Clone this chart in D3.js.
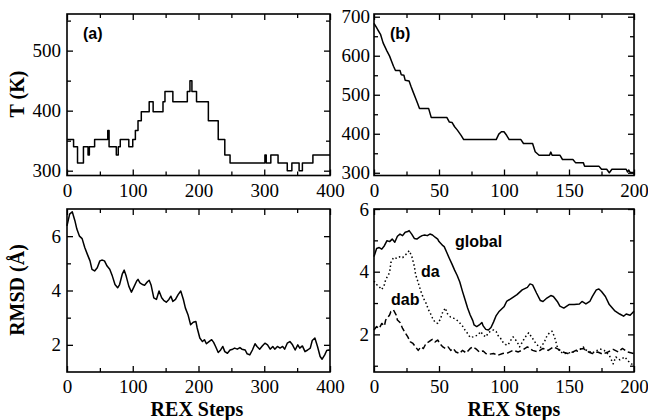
<!DOCTYPE html>
<html>
<head>
<meta charset="utf-8">
<script src="https://cdn.jsdelivr.net/npm/d3@7"></script>
<style>
body { margin: 0; background: #fff; }
</style>
</head>
<body>
<script>
var width = 648;
var height = 420;

// (a) temperature ladder, value holds from this step until the next one
var tempStepsA = [0, 10, 16, 25, 32, 34, 42, 62, 64, 75, 78, 81, 94, 100, 104, 108, 113, 125, 131, 146,
    149, 161, 183, 187, 190, 197, 215, 230, 240, 248, 301, 303, 310, 321, 335, 342, 353, 358, 374, 400];
var tempA = [352, 340, 313, 340, 326, 340, 352, 367, 340, 326, 340, 352, 340, 352, 367, 383, 398, 415, 398, 415,
    432, 415, 432, 450, 432, 415, 383, 352, 326, 313, 326, 313, 326, 313, 300, 313, 300, 313, 326, 326];

// (b) temperature
var tempStepsB = [0, 2, 3, 5, 7, 10, 12, 13.5, 15, 16.5, 20, 21, 23, 24, 27, 28.5, 30, 32, 33.5, 35,
    42, 44, 56, 58, 60, 62, 64, 67, 69, 94, 96, 98, 100, 102, 104, 113, 115, 122, 124, 127,
    135, 136, 137, 143, 145, 153, 155, 161, 162, 173, 175, 179, 181, 183, 194, 195, 196, 197, 200];
var tempB = [683, 672, 666, 655, 633, 612, 599, 586, 573, 562, 562, 551, 550, 537, 535, 521, 508, 491, 478, 465,
    465, 442, 442, 430, 429, 418, 410, 396, 385, 385, 399, 405, 405, 396, 385, 385, 375, 375, 354, 345,
    345, 353, 345, 345, 334, 334, 326, 326, 317, 317, 309, 309, 300, 309, 309, 302, 307, 301, 301];

// (a) RMSD
var rmsdStepsA = [0, 4, 8, 12, 15, 19, 23, 27, 31, 35,
    38, 42, 46, 50, 53, 57, 61, 65, 69, 73,
    77, 80, 84, 87, 90, 94, 98, 102, 106, 108,
    111, 115, 118, 122, 125, 128, 132, 136, 140, 144,
    147, 151, 155, 158, 161, 165, 169, 173, 177, 180,
    184, 188, 192, 196, 198, 202, 206, 209, 212, 216,
    220, 223, 226, 230, 233, 237, 240, 244, 248, 252,
    255, 259, 263, 266, 271, 274, 278, 282, 286, 289,
    293, 297, 301, 305, 309, 313, 316, 320, 324, 328,
    331, 335, 339, 343, 347, 351, 354, 358, 362, 366,
    370, 373, 377, 381, 385, 388, 392, 395, 398, 400];
var rmsdA = [6.38, 6.81, 6.9, 6.57, 6.26, 6.0, 5.91, 5.58, 5.33, 5.09,
    4.78, 4.72, 4.84, 5.09, 5.12, 5.09, 4.9, 4.78, 4.53, 4.22,
    4.1, 4.22, 4.6, 4.75, 4.53, 4.16, 3.94, 4.14, 4.35, 4.41,
    4.28, 4.22, 4.19, 4.31, 4.38, 4.19, 3.73, 3.67, 3.98, 3.73,
    3.64, 3.57, 3.67, 3.79, 3.6, 3.67, 3.85, 3.98, 3.67, 3.36,
    3.11, 2.74, 2.83, 2.86, 2.62, 2.25, 2.12, 2.19, 2.04, 2.12,
    2.19, 2.09, 1.94, 1.72, 1.79, 1.94, 1.75, 1.69, 1.81, 1.84,
    1.88, 1.84, 1.9, 1.84, 1.81, 1.67, 1.63, 1.81, 2.04, 1.94,
    1.84, 1.96, 2.06, 2.0, 1.84, 1.94, 1.84, 1.94, 1.88, 1.94,
    1.84, 2.06, 2.12, 2.0, 1.81, 2.0, 1.88, 1.96, 1.75, 1.81,
    1.88, 2.16, 2.25, 1.94, 1.57, 1.47, 1.63, 1.79, 1.81, 1.8];

// (b) RMSD, three series
var globalSteps = [0, 2, 4, 6, 8, 10, 12, 14, 16, 18, 20, 22, 24, 26, 27, 29, 31, 33, 35, 37,
    39, 41, 43, 45, 47, 49, 50, 53, 54, 56, 58, 60, 62, 64, 66, 68, 70, 72, 74, 76,
    77, 79, 81, 83, 84, 86, 88, 90, 92, 94, 96, 98, 100, 102, 106, 110, 114, 118, 120, 122,
    125, 128, 130, 133, 136, 138, 141, 143, 146, 150, 154, 158, 160, 163, 166, 168, 171, 173, 175, 178,
    181, 185, 189, 192, 194, 197, 200];
var globalRmsd = [4.48, 4.74, 4.77, 4.72, 4.83, 4.99, 4.96, 5.04, 4.94, 5.13, 5.2, 5.15, 5.26, 5.28, 5.31, 5.2, 5.06, 5.04, 5.1, 5.15,
    5.17, 5.15, 5.2, 5.17, 5.1, 5.04, 4.96, 4.83, 4.8, 4.61, 4.42, 4.24, 4.05, 3.88, 3.67, 3.38, 3.11, 2.84, 2.62, 2.44,
    2.3, 2.25, 2.3, 2.38, 2.27, 2.16, 2.14, 2.22, 2.4, 2.6, 2.72, 2.8, 2.88, 3.05, 3.16, 3.27, 3.42, 3.5, 3.61, 3.58,
    3.32, 3.08, 3.05, 3.16, 3.24, 3.21, 3.05, 2.9, 2.84, 2.95, 2.95, 2.97, 3.05, 2.97, 3.05, 3.21, 3.42, 3.45, 3.37, 3.21,
    2.95, 2.76, 2.65, 2.58, 2.65, 2.61, 2.74];

var daSteps = [0, 2, 4, 6, 8, 9, 12, 13, 15, 18, 20, 22, 24, 26, 27, 29, 31, 32, 34, 36,
    38, 40, 42, 44, 45, 47, 49, 51, 53, 55, 56, 59, 61, 63, 65, 68, 70, 72, 74, 76,
    78, 80, 82, 84, 86, 88, 90, 92, 94, 95, 97, 99, 101, 103, 105, 107, 109, 111, 112, 115,
    117, 119, 122, 125, 128, 131, 133, 135, 137, 139, 141, 143, 146, 150, 154, 157, 161, 163, 166, 168,
    171, 174, 177, 181, 184, 186, 189, 193, 195, 198, 200];
var daRmsd = [3.7, 3.59, 3.52, 3.43, 3.59, 3.75, 3.97, 4.29, 4.45, 4.42, 4.48, 4.45, 4.53, 4.61, 4.67, 4.5, 4.18, 3.91, 3.65, 3.38,
    3.16, 3.0, 2.78, 2.62, 2.52, 2.38, 2.35, 2.48, 2.73, 2.84, 2.68, 2.55, 2.52, 2.48, 2.41, 2.27, 2.14, 2.03, 1.9, 1.92,
    1.95, 1.98, 2.09, 1.98, 1.92, 2.05, 2.11, 2.14, 2.09, 1.98, 1.9, 1.76, 1.68, 1.66, 1.8, 1.92, 1.82, 1.69, 1.6, 1.82,
    1.95, 2.05, 1.87, 1.68, 1.58, 1.75, 1.95, 2.05, 2.1, 1.9, 1.6, 1.45, 1.39, 1.41, 1.45, 1.47, 1.6, 1.5, 1.45, 1.41,
    1.48, 1.53, 1.49, 1.33, 1.06, 1.28, 1.19, 1.28, 1.17, 1.06, 1.02];

var dabSteps = [0, 2, 4, 6, 8, 9, 12, 13, 15, 17, 18, 20, 22, 24, 26, 28, 30, 32, 34, 36,
    38, 40, 42, 44, 45, 47, 49, 51, 53, 55, 57, 59, 61, 63, 66, 68, 71, 74, 76, 79,
    81, 84, 86, 89, 92, 95, 99, 103, 107, 111, 115, 118, 122, 126, 130, 134, 138, 142, 145, 149,
    153, 157, 161, 165, 168, 172, 176, 180, 184, 188, 191, 195, 200];
var dabRmsd = [2.14, 2.25, 2.19, 2.35, 2.27, 2.46, 2.62, 2.73, 2.78, 2.62, 2.46, 2.38, 2.19, 2.05, 1.92, 1.76, 1.71, 1.6, 1.49, 1.6,
    1.55, 1.71, 1.76, 1.82, 1.84, 1.76, 1.82, 1.69, 1.6, 1.55, 1.6, 1.49, 1.55, 1.44, 1.39, 1.49, 1.41, 1.55, 1.6, 1.52,
    1.44, 1.47, 1.39, 1.37, 1.39, 1.33, 1.39, 1.41, 1.49, 1.44, 1.52, 1.6, 1.49, 1.44, 1.55, 1.49, 1.6, 1.52, 1.44, 1.39,
    1.44, 1.52, 1.55, 1.44, 1.39, 1.44, 1.37, 1.44, 1.52, 1.44, 1.55, 1.44, 1.39];

var serif = '"Liberation Serif", "Times New Roman", serif';
var sans = '"Liberation Sans", Arial, sans-serif';

var svg = d3.select("body").append("svg")
    .attr("width", width)
    .attr("height", height)
    .style("display", "block");

function drawPanel(p) {
    var x = d3.scaleLinear().domain(p.xDomain).range([p.left, p.right]);
    var y = d3.scaleLinear().domain(p.yDomain).range([p.bottom, p.top]);
    var g = svg.append('g');

    function ax(axis, tx, ty, vals, size, pad, labels) {
        var a = axis.tickValues(vals).tickSize(-size).tickPadding(pad)
            .tickFormat(labels ? function (d) { return String(d); } : '');
        var sel = g.append('g')
            .attr('transform', 'translate(' + tx + ',' + ty + ')')
            .call(a);
        sel.select('.domain').remove();
        sel.selectAll('.tick line').attr('stroke', '#000').attr('stroke-width', 1.3);
        sel.selectAll('.tick text')
            .style('font-family', serif)
            .style('font-size', '19px')
            .attr('fill', '#000');
        return sel;
    }

    // ticks point inward on all four sides
    ax(d3.axisBottom(x), 0, p.bottom, p.xMajor, 6, 8, true);
    ax(d3.axisBottom(x), 0, p.bottom, p.xMinor, 4, 8, false);
    ax(d3.axisTop(x), 0, p.top, p.xMajor, 6, 0, false);
    ax(d3.axisTop(x), 0, p.top, p.xMinor, 4, 0, false);
    ax(d3.axisLeft(y), p.left, 0, p.yMajor, 6, p.yPad, true);
    ax(d3.axisLeft(y), p.left, 0, p.yMinor, 4, 0, false);
    ax(d3.axisRight(y), p.right, 0, p.yMajor, 6, 0, false);
    ax(d3.axisRight(y), p.right, 0, p.yMinor, 4, 0, false);

    g.append('rect')
        .attr('x', p.left)
        .attr('y', p.top)
        .attr('width', p.right - p.left)
        .attr('height', p.bottom - p.top)
        .attr('fill', 'none')
        .attr('stroke', '#000')
        .attr('stroke-width', 1.6);

    return { x: x, y: y, g: g };
}

function addLine(panel, xs, ys, curve, dash) {
    var line = d3.line()
        .x(function (d) { return panel.x(d[0]); })
        .y(function (d) { return panel.y(d[1]); })
        .curve(curve);
    panel.g.append('path')
        .datum(d3.zip(xs, ys))
        .attr('d', line)
        .attr('fill', 'none')
        .attr('stroke', '#000')
        .attr('stroke-width', 1.5)
        .attr('stroke-linejoin', 'round')
        .attr('stroke-dasharray', dash);
}

function addText(txt, x, y, opts) {
    var t = svg.append('text')
        .attr('x', x)
        .attr('y', y)
        .style('font-family', opts.serif ? serif : sans)
        .style('font-weight', 'bold')
        .style('font-size', opts.size + 'px')
        .attr('text-anchor', opts.anchor || 'start')
        .text(txt);
    if (opts.rotate) t.attr('transform', 'rotate(-90,' + x + ',' + y + ')');
    return t;
}

var pa = drawPanel({
    left: 67, right: 330, top: 14, bottom: 175.5,
    xDomain: [0, 400], yDomain: [292, 561],
    xMajor: [0, 100, 200, 300, 400], xMinor: [50, 150, 250, 350],
    yMajor: [300, 400, 500], yMinor: [350, 450, 550], yPad: 6
});
addLine(pa, tempStepsA, tempA, d3.curveStepAfter, null);

var pb = drawPanel({
    left: 374, right: 634, top: 14, bottom: 175.5,
    xDomain: [0, 200], yDomain: [293, 707],
    xMajor: [0, 50, 100, 150, 200], xMinor: [25, 75, 125, 175],
    yMajor: [300, 400, 500, 600, 700], yMinor: [350, 450, 550, 650], yPad: 4
});
addLine(pb, tempStepsB, tempB, d3.curveLinear, null);

var pc = drawPanel({
    left: 67, right: 330, top: 209, bottom: 372,
    xDomain: [0, 400], yDomain: [1, 7],
    xMajor: [0, 100, 200, 300, 400], xMinor: [50, 150, 250, 350],
    yMajor: [2, 4, 6], yMinor: [3, 5], yPad: 6
});
addLine(pc, rmsdStepsA, rmsdA, d3.curveLinear, null);

var pd = drawPanel({
    left: 374, right: 634, top: 209, bottom: 372,
    xDomain: [0, 200], yDomain: [0.8, 6],
    xMajor: [0, 50, 100, 150, 200], xMinor: [25, 75, 125, 175],
    yMajor: [2, 4, 6], yMinor: [1, 3, 5], yPad: 5
});
addLine(pd, globalSteps, globalRmsd, d3.curveLinear, null);
addLine(pd, daSteps, daRmsd, d3.curveLinear, '1.5,2.5');
addLine(pd, dabSteps, dabRmsd, d3.curveLinear, '6,3');

// labels
addText('(a)', 83, 39, { size: 16 });
addText('(b)', 390, 39, { size: 16 });
addText('global', 455, 247, { size: 16 });
addText('da', 421, 277, { size: 16 });
addText('dab', 391, 305, { size: 16 });

addText('T (K)', 24, 94, { serif: true, size: 20, anchor: 'middle', rotate: true });
addText('RMSD (Å)', 24, 290, { serif: true, size: 20, anchor: 'middle', rotate: true });
addText('REX Steps', 197, 416, { serif: true, size: 20, anchor: 'middle' });
addText('REX Steps', 514, 416, { serif: true, size: 20, anchor: 'middle' });
</script>
</body>
</html>
